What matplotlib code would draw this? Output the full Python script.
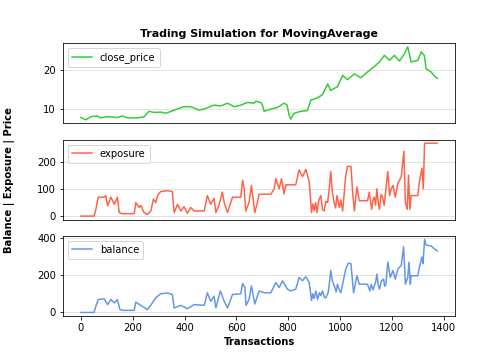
import matplotlib.pyplot as plt

# values (transaction index, value)
price_t = [0, 19, 39, 64, 75, 103, 141, 160, 180, 219, 244, 263, 283, 308, 328, 360, 398,
           424, 456, 476, 514, 540, 566, 591, 617, 643, 668, 675, 694, 700, 707, 733, 759,
           784, 795, 804, 810, 823, 849, 874, 887, 913, 932, 952, 964, 990, 1010, 1029,
           1055, 1080, 1106, 1132, 1152, 1171, 1191, 1210, 1229, 1248, 1261, 1274, 1300,
           1313, 1325, 1332, 1351, 1362, 1375]
price = [7.8, 7.2, 8.0, 8.2, 7.7, 8.0, 7.8, 8.2, 7.7, 7.7, 8.0, 9.4, 9.1, 9.2, 8.9, 9.7,
         10.6, 10.6, 9.7, 10.0, 11.0, 10.8, 11.5, 10.6, 11.0, 11.7, 11.5, 12.0, 11.7, 11.1,
         9.4, 10.0, 10.4, 11.5, 11.1, 8.3, 7.4, 8.9, 9.4, 9.6, 12.3, 12.9, 13.7, 16.5, 14.8,
         15.8, 18.7, 17.6, 19.1, 18.1, 19.6, 21.0, 22.2, 23.9, 22.6, 23.9, 22.4, 24.3, 26.1,
         22.2, 22.6, 24.8, 23.9, 20.4, 19.6, 18.7, 17.9]

exposure_t = [0, 51, 58, 67, 90, 96, 103, 116, 129, 141, 148, 161, 206, 212, 225, 231, 244,
              257, 270, 280, 289, 296, 308, 334, 353, 360, 373, 386, 398, 411, 424, 437, 476,
              488, 501, 514, 521, 534, 546, 553, 566, 585, 617, 624, 630, 636, 649, 658, 662,
              671, 681, 688, 733, 746, 752, 765, 774, 784, 791, 829, 842, 855, 868, 881, 890,
              895, 900, 906, 911, 918, 926, 932, 939, 945, 952, 958, 964, 970, 977, 983, 988,
              997, 1003, 1010, 1022, 1029, 1042, 1049, 1055, 1065, 1074, 1106, 1113, 1118,
              1122, 1127, 1132, 1137, 1142, 1147, 1152, 1158, 1164, 1170, 1177, 1184, 1191,
              1197, 1204, 1213, 1223, 1236, 1246, 1252, 1259, 1264, 1269, 1274, 1300, 1306,
              1316, 1321, 1326, 1375]
exposure = [0, 0, 25, 70, 70, 76, 38, 70, 44, 70, 13, 9, 9, 50, 32, 40, 13, 6, 19, 63, 50,
            76, 91, 94, 91, 13, 44, 19, 35, 10, 32, 19, 19, 76, 44, 66, 13, 44, 89, 50, 13, 70,
            70, 133, 101, 19, 50, 114, 82, 13, 50, 81, 81, 101, 139, 101, 139, 82, 116, 116,
            171, 146, 173, 127, 13, 45, 20, 50, 13, 60, 76, 25, 19, 55, 50, 100, 165, 90, 50,
            30, 76, 32, 60, 19, 152, 184, 184, 82, 19, 108, 57, 57, 89, 50, 25, 60, 70, 40,
            101, 50, 25, 80, 70, 40, 101, 165, 76, 100, 114, 70, 120, 146, 240, 50, 25, 152,
            25, 76, 76, 127, 177, 101, 270, 270]

balance_t = [0, 51, 58, 67, 90, 103, 116, 129, 141, 151, 161, 206, 212, 231, 257, 276, 289,
             308, 334, 353, 360, 386, 411, 437, 476, 488, 501, 514, 521, 538, 553, 566, 585,
             617, 624, 633, 637, 649, 658, 671, 688, 707, 733, 752, 765, 778, 797, 810, 829,
             842, 855, 868, 881, 890, 895, 900, 907, 913, 920, 926, 932, 940, 945, 954, 960,
             964, 970, 980, 985, 990, 997, 1003, 1022, 1032, 1042, 1052, 1065, 1074, 1106,
             1115, 1120, 1127, 1132, 1137, 1142, 1147, 1152, 1160, 1168, 1172, 1177, 1184,
             1194, 1200, 1204, 1213, 1223, 1236, 1245, 1252, 1261, 1266, 1271, 1274, 1300,
             1306, 1316, 1320, 1326, 1332, 1351, 1362, 1375]
balance = [0, 0, 33, 69, 73, 42, 69, 51, 69, 15, 11, 11, 55, 38, 15, 51, 78, 100, 104, 96,
           24, 38, 20, 42, 38, 105, 60, 87, 24, 115, 60, 24, 96, 100, 155, 133, 38, 69, 142,
           45, 115, 105, 105, 160, 133, 169, 124, 115, 124, 187, 169, 191, 160, 64, 100, 75,
           115, 69, 105, 90, 115, 80, 78, 105, 170, 224, 170, 133, 110, 151, 120, 105, 233,
           264, 260, 105, 196, 151, 151, 115, 150, 120, 142, 160, 205, 150, 124, 170, 178,
           140, 151, 269, 187, 210, 224, 178, 233, 251, 351, 151, 187, 269, 151, 196, 196,
           242, 296, 260, 390, 360, 355, 342, 329]

fig, axes = plt.subplots(3, 1, figsize=(7, 5), dpi=72, sharex=True)
fig.subplots_adjust(left=0.125, right=0.903, top=0.88, bottom=0.122, hspace=0.2)

axes[0].plot(price_t, price, color='limegreen', label='close_price')
axes[1].plot(exposure_t, exposure, color='tomato', label='exposure')
axes[2].plot(balance_t, balance, color='cornflowerblue', label='balance')

for ax in axes:
  ax.grid(axis='y', color='#dddddd')
  ax.set_axisbelow(True)
  ax.legend(loc='upper left')
for ax in axes[:2]:
  ax.tick_params(axis='x', bottom=False)

axes[0].set_title('Trading Simulation for MovingAverage', fontsize=11, fontweight='bold')
axes[2].set_xlabel('Transactions', fontweight='bold')
fig.text(0.018, 0.5, 'Balance | Exposure | Price', rotation=90, va='center', ha='center',
         fontweight='bold')

fig.savefig('out.png', dpi=72)
